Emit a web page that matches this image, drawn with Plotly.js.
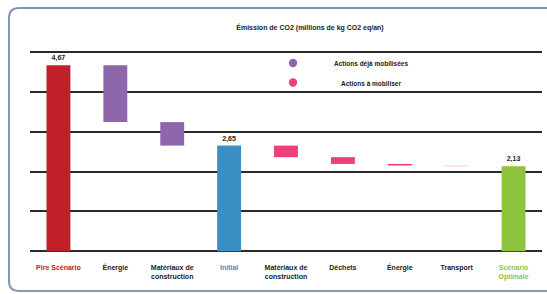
<!DOCTYPE html>
<html><head><meta charset="utf-8">
<script src="https://cdn.plot.ly/plotly-3.0.1.min.js"></script>
<style>body{margin:0;background:#fff}#c{width:547px;height:294px}</style>
</head><body><div id="c"></div>
<script>
// ---- data ----
const categories = ["Pire Scénario","Énergie","Matériaux de<br>construction","Initial","Matériaux de<br>construction","Déchets","Énergie","Transport","Scénario<br>Optimale"];
const labelColors = ["#c0202a","#222","#222","#3a8fc4","#222","#222","#222","#222","#8dc43e"];
const barStart = [0, 4.67, 3.24, 0, 2.65, 2.36, 2.19, 2.15, 0];
const barEnd   = [4.67, 3.24, 2.65, 2.65, 2.36, 2.19, 2.15, 2.13, 2.13];
const isTotal  = [true,false,false,true,false,false,false,false,true];
const barColors = ["#c0202a","#8e67ab","#8e67ab","#3a8fc4","#ee3f78","#ee3f78","#ee3f78","#f8c3d4","#8dc43e"];
const legendLabels = ["Actions déjà mobilisées","Actions à mobiliser"];
const legendColors = ["#8e67ab","#ee3f78"];
const titleText = "Émission de CO2 (millions de kg CO2 eq/an)";

// ---- geometry ----
const W=547,H=294, ml=30, mr=5, mt=46, mb=42;
const pw=W-ml-mr, ph=H-mt-mb;
const px=x=>(x-ml)/pw, py=y=>(H-mb-y)/ph;

const idx = categories.map((_,i)=>i);
const base = barStart.map((s,i)=>Math.min(s,barEnd[i]));
const len = barStart.map((s,i)=>Math.abs(barEnd[i]-s));
const txt = barEnd.map((v,i)=>isTotal[i]? v.toFixed(2).replace('.',','):'');

const trace = {
  type:'bar', x:idx, y:len, base:base, width:0.42,
  marker:{color:barColors, line:{width:0}},
  text:txt, textposition:'outside', cliponaxis:false,
  textfont:{size:7, color:'#222', family:'Liberation Sans, Arial', weight:'bold'},
  hoverinfo:'skip', showlegend:false
};

const shapes = [];
const annotations = [];
legendLabels.forEach((l,i)=>{
  const cy = 63 + i*19.5, cx = 293, r = 4.2;
  shapes.push({type:'circle', xref:'paper', yref:'paper', x0:px(cx-r), x1:px(cx+r), y0:py(cy+r), y1:py(cy-r),
    fillcolor:legendColors[i], line:{width:0}});
  annotations.push({xref:'paper', yref:'paper', x:px(371), y:py(cy+1), text:l, showarrow:false,
    xanchor:'center', yanchor:'middle', font:{size:6.5, color:'#222', family:'Liberation Sans, Arial', weight:'bold'}});
});
// frame
const fl=9, ft=8, fr=570, fb=291, rad=10;
shapes.push({type:'path', xref:'paper', yref:'paper', layer:'below',
  path:`M ${px(fr)} ${py(ft)} L ${px(fl+rad)} ${py(ft)} Q ${px(fl)} ${py(ft)} ${px(fl)} ${py(ft+rad)} L ${px(fl)} ${py(fb-rad)} Q ${px(fl)} ${py(fb)} ${px(fl+rad)} ${py(fb)} L ${px(fr)} ${py(fb)}`,
  line:{color:'#8595b5', width:2}});

const layout = {
  width:W, height:H, margin:{l:ml,r:mr,t:mt,b:mb},
  paper_bgcolor:'#fff', plot_bgcolor:'#fff',
  title:{text:titleText, xref:'container', yref:'container', x:310/W, y:1-28/H, xanchor:'center', yanchor:'middle',
    font:{size:7, color:'#222', family:'Liberation Sans, Arial', weight:'bold'}},
  xaxis:{tickmode:'array', tickvals:idx,
    ticktext:categories.map((c,i)=>`<span style="color:${labelColors[i]}">${c}</span>`),
    range:[-0.5,8.5], showgrid:false, zeroline:false, showline:false, ticks:'',
    ticklabelstandoff:10, tickangle:0,
    tickfont:{size:7, color:'#222', family:'Liberation Sans, Arial', weight:'bold'}},
  yaxis:{range:[-0.02,5.15], tickmode:'linear', dtick:1, tick0:0, showgrid:true, gridcolor:'#2b2b2b', gridwidth:2,
    zeroline:true, zerolinecolor:'#2b2b2b', zerolinewidth:2, showticklabels:false, ticks:''},
  shapes:shapes, annotations:annotations, bargap:0.5, showlegend:false
};
Plotly.newPlot('c',[trace],layout,{staticPlot:true});
</script></body></html>
